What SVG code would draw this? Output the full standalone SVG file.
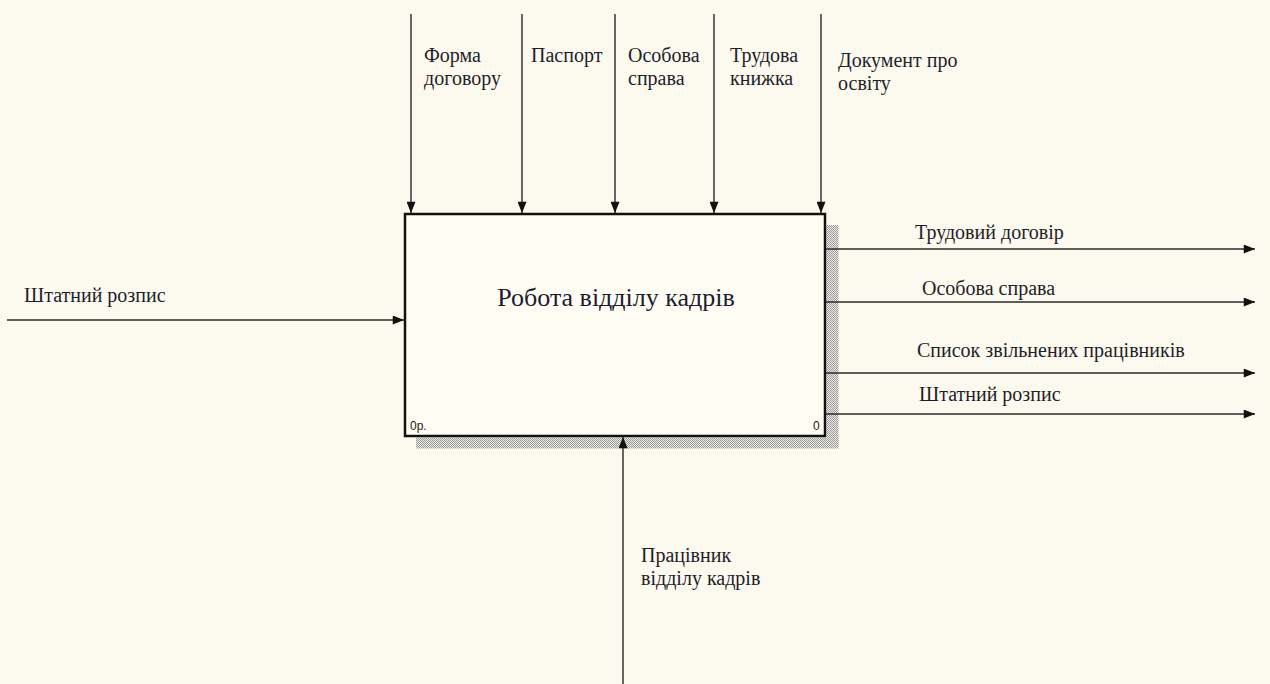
<svg xmlns="http://www.w3.org/2000/svg" width="1270" height="684" viewBox="0 0 1270 684">
  <style>
    .lbl { font-family: "Liberation Serif", "Times New Roman", serif; font-size: 20px; fill: #1e1e2a; }
    .title { font-family: "Liberation Serif", "Times New Roman", serif; font-size: 26px; fill: #1c1c30; }
    .small { font-family: "Liberation Sans", Arial, sans-serif; font-size: 12px; fill: #222; }
    .arrow { stroke: #2a2a2a; stroke-width: 1.4; fill: none; marker-end: url(#ah); }
  </style>
  <defs>
    <marker id="ah" viewBox="0 0 10 8" refX="10" refY="4" markerWidth="12" markerHeight="9" markerUnits="userSpaceOnUse" orient="auto">
      <path d="M0,0 L10,4 L0,8 z" fill="#111"/>
    </marker>
    <pattern id="hatch" width="2" height="2" patternUnits="userSpaceOnUse">
      <rect width="2" height="2" fill="#ecebe6"/>
      <rect width="1" height="1" fill="#9a9a9a"/>
      <rect x="1" y="1" width="1" height="1" fill="#9a9a9a"/>
    </pattern>
  </defs>
  <rect width="1270" height="684" fill="#fcf9ee"/>

  <g id="node-A0">
    <rect x="826.5" y="225" width="12" height="223" fill="url(#hatch)"/>
    <rect x="416" y="437.5" width="422.5" height="11" fill="url(#hatch)"/>
    <rect x="405" y="214" width="420" height="222" fill="#fffcf3" stroke="#111" stroke-width="2.5"/>
    <text class="title" x="616" y="306" text-anchor="middle">Робота відділу кадрів</text>
    <text class="small" x="410" y="430">0р.</text>
    <text class="small" x="813" y="430">0</text>
  </g>

  <g id="connectors">
    <line class="arrow" x1="411" y1="14" x2="411" y2="213"/>
    <line class="arrow" x1="522" y1="14" x2="522" y2="213"/>
    <line class="arrow" x1="615" y1="14" x2="615" y2="213"/>
    <line class="arrow" x1="714" y1="14" x2="714" y2="213"/>
    <line class="arrow" x1="821" y1="14" x2="821" y2="213"/>
    <line class="arrow" x1="7" y1="320" x2="404" y2="320"/>
    <line class="arrow" x1="826" y1="249" x2="1255" y2="249"/>
    <line class="arrow" x1="826" y1="302" x2="1255" y2="302"/>
    <line class="arrow" x1="826" y1="373" x2="1255" y2="373"/>
    <line class="arrow" x1="826" y1="414" x2="1255" y2="414"/>
    <line class="arrow" x1="623" y1="684" x2="623" y2="437"/>
  </g>

  <g id="labels">
    <text class="lbl" x="424" y="62">Форма</text>
    <text class="lbl" x="424" y="85">договору</text>
    <text class="lbl" x="531" y="62">Паспорт</text>
    <text class="lbl" x="628" y="62">Особова</text>
    <text class="lbl" x="628" y="85">справа</text>
    <text class="lbl" x="730" y="62">Трудова</text>
    <text class="lbl" x="730" y="85">книжка</text>
    <text class="lbl" x="838" y="67">Документ про</text>
    <text class="lbl" x="838" y="90">освіту</text>
    <text class="lbl" x="24" y="302">Штатний розпис</text>
    <text class="lbl" x="915" y="239">Трудовий договір</text>
    <text class="lbl" x="922" y="295">Особова справа</text>
    <text class="lbl" x="917" y="357">Список звільнених працівників</text>
    <text class="lbl" x="919" y="401">Штатний розпис</text>
    <text class="lbl" x="641" y="562">Працівник</text>
    <text class="lbl" x="641" y="585">відділу кадрів</text>
  </g>
</svg>
